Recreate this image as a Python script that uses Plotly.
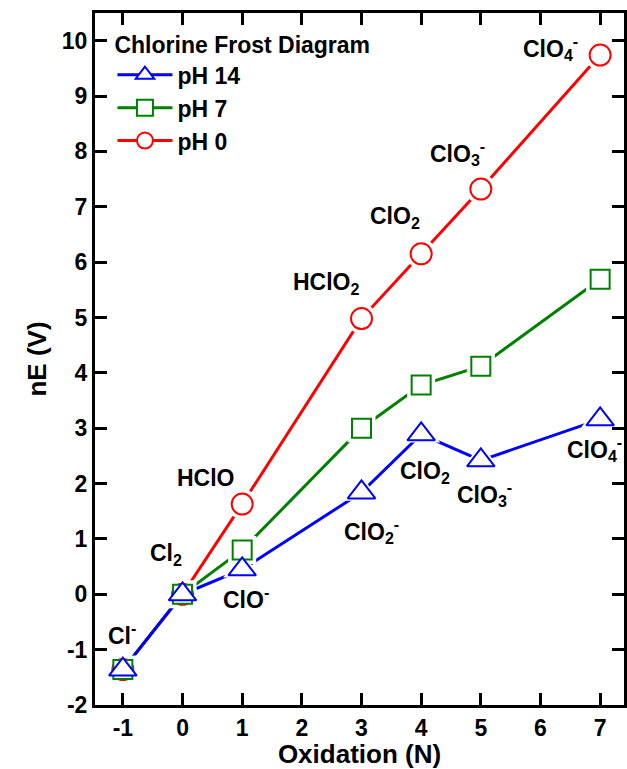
import plotly.graph_objects as go

# Oxidation states of chlorine species
oxidation = [-1, 0, 1, 3, 4, 5, 7]

# Volt-equivalents nE (V) at each pH
ne_ph0 = [-1.36, 0.0, 1.63, 4.98, 6.15, 7.32, 9.74]
ne_ph7 = [-1.36, 0.0, 0.80, 3.00, 3.78, 4.12, 5.69]
ne_ph14 = [-1.36, 0.0, 0.45, 1.84, 2.89, 2.42, 3.16]

# Species names
acid_species = ["Cl<sup>-</sup>", "Cl<sub>2</sub>", "HClO", "HClO<sub>2</sub>",
                "ClO<sub>2</sub>", "ClO<sub>3</sub><sup>-</sup>", "ClO<sub>4</sub><sup>-</sup>"]
base_species = ["ClO<sup>-</sup>", "ClO<sub>2</sub><sup>-</sup>", "ClO<sub>2</sub>",
                "ClO<sub>3</sub><sup>-</sup>", "ClO<sub>4</sub><sup>-</sup>"]

series_names = ["pH 14", "pH 7", "pH 0"]

# Axis ticks (plain hyphen for negatives)
x_ticks = [-1, 0, 1, 2, 3, 4, 5, 6, 7]
x_ticktext = ["-1", "0", "1", "2", "3", "4", "5", "6", "7"]
y_ticks = [-2, -1, 0, 1, 2, 3, 4, 5, 6, 7, 8, 9, 10]
y_ticktext = ["-2", "-1", "0", "1", "2", "3", "4", "5", "6", "7", "8", "9", "10"]

FONT = "Liberation Sans, Arial, sans-serif"
BLUE, GREEN, RED = "#0000FF", "#008000", "#FF0000"

styles = {
    "pH 0": dict(y=ne_ph0, color=RED, symbol="circle", size=21),
    "pH 7": dict(y=ne_ph7, color=GREEN, symbol="square", size=19),
    "pH 14": dict(y=ne_ph14, color=BLUE, symbol="triangle-up", size=24),
}
draw_order = ["pH 0", "pH 7", "pH 14"]

fig = go.Figure()

# connecting lines
for name in draw_order:
    s = styles[name]
    fig.add_trace(go.Scatter(x=oxidation, y=s["y"], mode="lines",
                             line=dict(color=s["color"], width=3),
                             showlegend=False, hoverinfo="skip"))

# white halos leave a small gap between lines and symbols
for name in draw_order:
    s = styles[name]
    fig.add_trace(go.Scatter(x=oxidation, y=s["y"], mode="markers",
                             marker=dict(symbol=s["symbol"], size=s["size"] + 9,
                                         color="white", line=dict(width=0)),
                             showlegend=False, hoverinfo="skip"))

# hollow symbols
for name in draw_order:
    s = styles[name]
    fig.add_trace(go.Scatter(x=oxidation, y=s["y"], mode="markers", name=name,
                             marker=dict(symbol=s["symbol"], size=s["size"],
                                         color="white",
                                         line=dict(color=s["color"], width=2)),
                             showlegend=False))

# legend entries
for name in series_names:
    s = styles[name]
    fig.add_trace(go.Scatter(x=[None], y=[None], mode="lines+markers", name=name,
                             line=dict(color=s["color"], width=3),
                             marker=dict(symbol=s["symbol"], size=s["size"],
                                         color="white",
                                         line=dict(color=s["color"], width=2))))

# species labels (pixel offsets from each point)
acid_shift = [(-1, 36), (-17, 40), (-36, 26), (-35, 35), (-26, 36), (-23, 36), (-50, 7)]
base_shift = [(4, -29), (10, -39), (4, -38), (4, -34), (-6, -30)]

label_font = dict(family=FONT, size=23, color="black", weight="bold")
for txt, xv, yv, (dx, dy) in zip(acid_species, oxidation, ne_ph0, acid_shift):
    fig.add_annotation(x=xv, y=yv, text=txt, showarrow=False, xshift=dx, yshift=dy,
                       font=label_font)
for txt, xv, yv, (dx, dy) in zip(base_species, oxidation[2:], ne_ph14[2:], base_shift):
    fig.add_annotation(x=xv, y=yv, text=txt, showarrow=False, xshift=dx, yshift=dy,
                       font=label_font)

axis_common = dict(
    showline=True, linecolor="black", linewidth=3, mirror="ticks",
    ticks="inside", ticklen=12, tickwidth=2.5, tickcolor="black",
    showgrid=False, zeroline=False, tickmode="array",
    tickfont=dict(family=FONT, size=23, color="black", weight="bold"),
)

fig.update_xaxes(range=[-1.467, 7.4], tickvals=x_ticks, ticktext=x_ticktext,
                 title=dict(text="Oxidation (N)", standoff=10,
                            font=dict(family=FONT, size=26, color="black", weight="bold")),
                 **axis_common)
fig.update_yaxes(range=[-2, 10.5], tickvals=y_ticks, ticktext=y_ticktext,
                 title=dict(text="nE (V)", standoff=8,
                            font=dict(family=FONT, size=26, color="black", weight="bold")),
                 **axis_common)

fig.update_layout(
    width=627, height=769,
    margin=dict(l=95, r=0, t=13, b=63),
    plot_bgcolor="white", paper_bgcolor="white",
    showlegend=True,
    legend=dict(
        title=dict(text="Chlorine Frost Diagram",
                   font=dict(family=FONT, size=23, color="black", weight="bold")),
        font=dict(family=FONT, size=23, color="black", weight="bold"),
        x=0.033, y=0.985, xanchor="left", yanchor="top",
        itemwidth=55,
        bgcolor="rgba(0,0,0,0)", borderwidth=0, tracegroupgap=0,
    ),
)

fig.write_html("out.html")
